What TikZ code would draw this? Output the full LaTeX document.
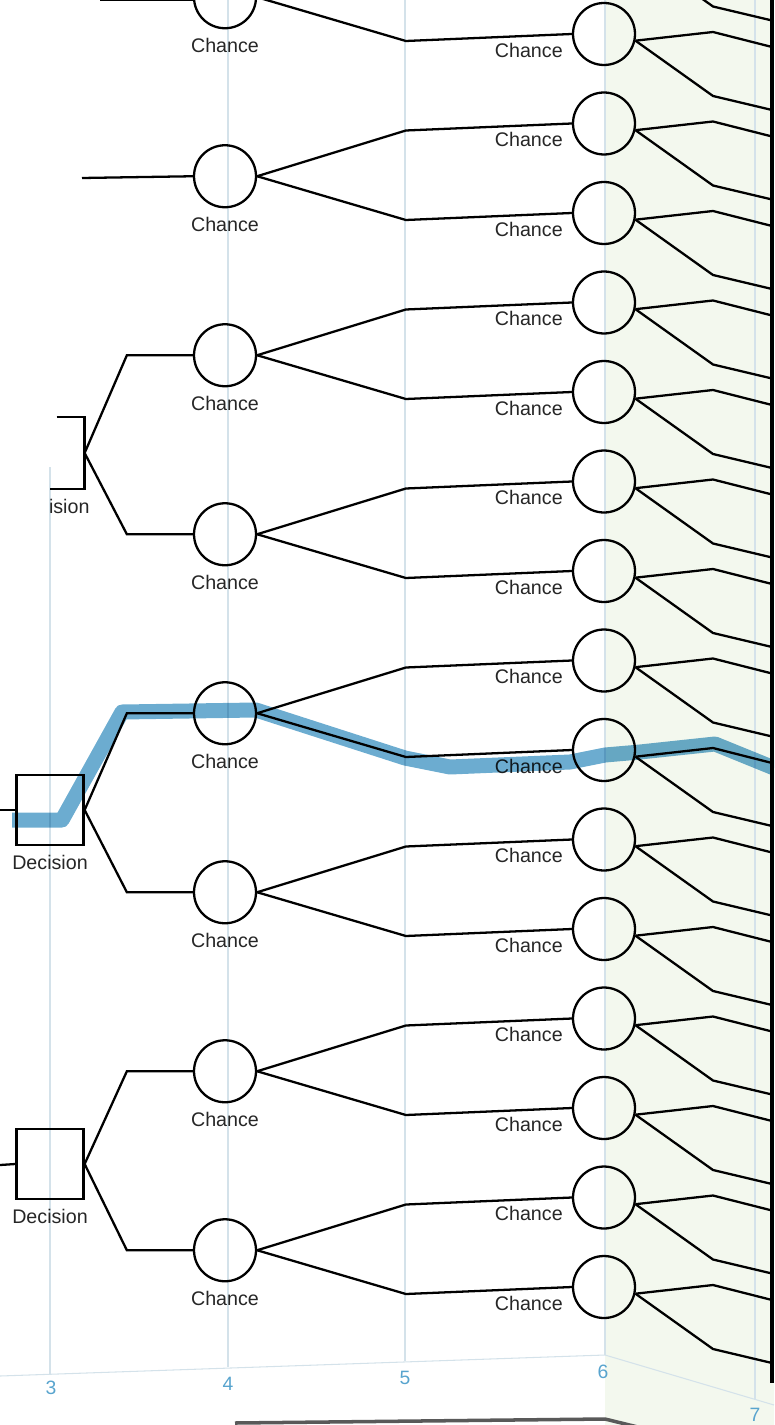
\documentclass[tikz,border=0pt]{standalone}
\usepackage{fontspec}
\setmainfont{Liberation Sans}
\usetikzlibrary{positioning,calc}
\definecolor{pathblue}{RGB}{108,172,208}
\definecolor{guide}{RGB}{212,226,234}
\definecolor{axisblue}{RGB}{88,164,206}
\definecolor{tint}{RGB}{243,248,238}
\begin{document}
\begin{tikzpicture}[x=0.02cm,y=-0.02cm,line width=1.3pt,
        chance/.style={draw,circle,minimum size=1.24cm,inner sep=0pt},
        decision/.style={draw,rectangle,minimum width=1.34cm,minimum height=1.4cm,inner sep=0pt},
        lbl/.style={font=\fontsize{11.2}{13}\selectfont,text=black!85,inner sep=0pt},
        num/.style={font=\fontsize{11}{13}\selectfont,text=axisblue,inner sep=0pt},
        guideline/.style={draw=guide,line width=0.6pt}]
    \useasboundingbox (0,0) rectangle (774,1425);
    \clip (0,0) rectangle (774,1425);
    \fill[tint] (605,0) rectangle (774,1425);
    % column guides and scale
    \draw[guideline] (50,467) -- (50,1374);
    \foreach \x/\yb in {228/1367,405/1361,605/1355,755/1400}
        \draw[guideline] (\x,0) -- (\x,\yb);
    \draw[guideline] (0,1376) -- (605,1355) -- (774,1405);
    \foreach \x/\y/\n in {51/1388/3,228/1384/4,405/1378/5,603/1372/6,755/1415/7}
        \node[num] (n\n) at (\x,\y) {\n};
    \draw[gray!70!black,line width=2pt] (235,1423) -- (605,1419) -- (650,1430);
    % last chance column
    \foreach \j in {-1,...,14}{
        \pgfmathsetmacro\c{34+89.5*\j}
        \node[chance] (e\j) at (604,\c) {};
        \ifnum\j>-1
            \node[lbl,left=0.16cm of e\j.west,yshift=-0.32cm] {Chance};
        \fi
        \coordinate (u\j) at (772,\c+13);
        \coordinate (l\j) at (772,\c+76);
        \draw (e\j.-12) -- (713,\c-2) -- (u\j);
        \draw (e\j.-12) -- (713,\c+62) -- (l\j);
    }
    % first chance column
    \foreach \k in {0,...,7}{
        \pgfmathsetmacro\p{-2.75+179*\k}
        \pgfmathtruncatemacro\a{2*\k-1}
        \pgfmathtruncatemacro\b{2*\k}
        \node[chance] (d\k) at (225,\p) {};
        \node[lbl,below=0.15cm of d\k.south] {Chance};
        \draw (d\k.east) -- ($(e\a.west)+(-166,7)$) -- (e\a.west);
        \draw (d\k.east) -- ($(e\b.west)+(-166,7)$) -- (e\b.west);
    }
    % decisions
    \node[decision,draw=none] (dec1) at (50,453) {};
    \node[decision] (dec2) at (50,810) {};
    \node[decision] (dec3) at (50,1164) {};
    \draw (dec1.north east) ++(-28,0) -- (dec1.north east) -- (dec1.south east) -- ++(-35,0);
    \node[lbl,anchor=north east] at ($(dec1.south east)+(6,9)$) {ision};
    \node[lbl,below=0.16cm of dec2] {Decision};
    \node[lbl,below=0.16cm of dec3] {Decision};
    \foreach \s/\k in {1/2,1/3,2/4,2/5,3/6,3/7}
        \draw (dec\s.east) -- ($(d\k.west)+(-66,0)$) -- (d\k.west);
    \coordinate (in0) at (100,0);
    \coordinate (in1) at (82,178);
    \coordinate (in2) at (0,810);
    \coordinate (in3) at (0,1165);
    \draw (in0) -- (in0 -| d0.west);
    \draw (in1) -- (d1.west);
    \draw (in2) -- (dec2.west);
    \draw (in3) -- (dec3.west);
    \coordinate (bartop) at (772,0);
    \coordinate (barend) at (772,1383);
    \draw[line width=1.8pt] (bartop) -- (barend);
    % the highlighted course
    \draw[pathblue,line width=0.3cm,line join=round,blend mode=multiply]
        (12,820) -- (62,820) -- (122,712) -- (256,710) -- (405,758) -- (450,767)
        -- (570,762) -- (605,755) -- (640,752) -- (715,744) -- (774,768);
\end{tikzpicture}
\end{document}
